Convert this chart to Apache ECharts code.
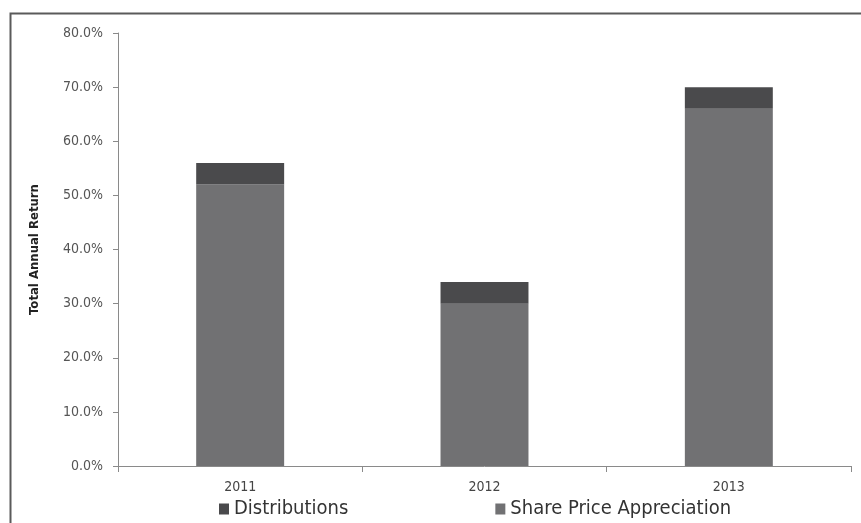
<!DOCTYPE html>
<html><head><meta charset="utf-8">
<script src="https://cdn.jsdelivr.net/npm/echarts@6/dist/echarts.min.js"></script>
<style>html,body{margin:0;padding:0;background:#fff}#c{width:861px;height:523px}</style>
</head><body><div id="c"></div>
<script>
const categories = ['2011', '2012', '2013'];
const shareAppreciation = [52.0, 30.0, 66.0];
const distributions = [4.0, 4.0, 4.0];
const yTicks = [0, 10, 20, 30, 40, 50, 60, 70, 80];

const font = '"DejaVu Sans Condensed", "Liberation Sans", sans-serif';
const chart = echarts.init(document.getElementById('c'), null, {renderer: 'canvas'});
chart.setOption({
  animation: false,
  backgroundColor: '#fff',
  graphic: [{
    type: 'rect', left: 8, top: 11, z: -1,
    shape: {width: 870, height: 530},
    style: {fill: 'none', stroke: '#5a5a5a', lineWidth: 2}
  }],
  grid: {left: 118, right: 10, top: 33, bottom: 57, containLabel: false},
  legend: {
    data: ['Distributions', 'Share Price Appreciation'],
    bottom: -1, left: 214,
    itemWidth: 10, itemHeight: 11, itemGap: 147,
    textStyle: {fontFamily: font, fontSize: 20, color: '#333'},
    icon: 'rect'
  },
  xAxis: {
    type: 'category', data: categories,
    axisLine: {lineStyle: {color: '#8a8a8a', width: 1}},
    axisTick: {show: true, alignWithLabel: false, length: 6, lineStyle: {color: '#8a8a8a'}},
    axisLabel: {fontFamily: font, fontSize: 14, color: '#444', margin: 14}
  },
  yAxis: {
    type: 'value', min: yTicks[0], max: yTicks[yTicks.length - 1], interval: 10,
    name: 'Total Annual Return', nameLocation: 'middle', nameGap: 77, nameRotate: 90,
    nameTextStyle: {fontFamily: font, fontSize: 13, fontWeight: 'bold', color: '#222'},
    axisLine: {show: true, lineStyle: {color: '#8a8a8a', width: 1}},
    axisTick: {show: true, length: 5, lineStyle: {color: '#8a8a8a'}},
    splitLine: {show: false},
    axisLabel: {fontFamily: font, fontSize: 14, color: '#555', margin: 15,
      formatter: v => v.toFixed(1) + '%'}
  },
  series: [
    {name: 'Share Price Appreciation', type: 'bar', stack: 'total', data: shareAppreciation,
      barWidth: '36%', itemStyle: {color: '#717173'}},
    {name: 'Distributions', type: 'bar', stack: 'total', data: distributions,
      barWidth: '36%', itemStyle: {color: '#4a4a4c'}}
  ]
});
</script></body></html>
